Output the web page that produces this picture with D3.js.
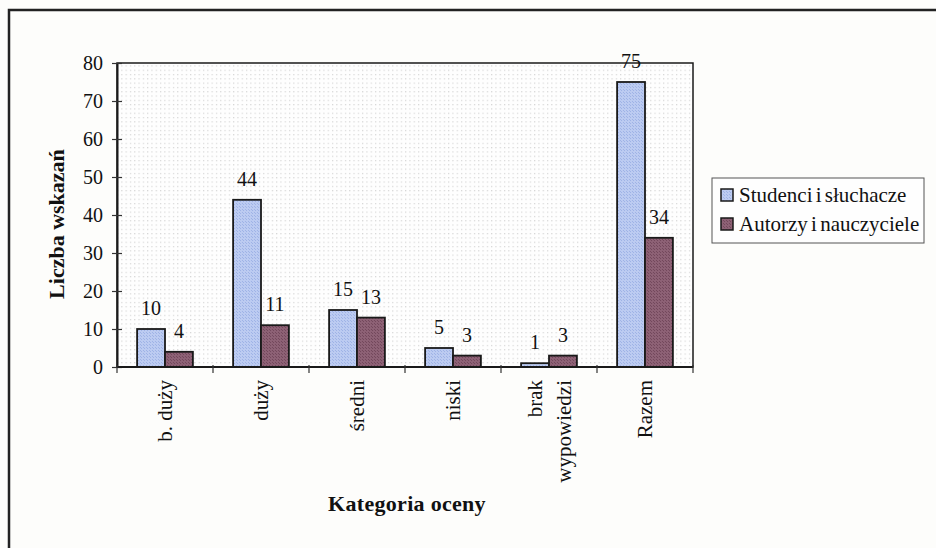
<!DOCTYPE html>
<html>
<head>
<meta charset="utf-8">
<script src="https://cdn.jsdelivr.net/npm/d3@7"></script>
<style>
  html, body { margin: 0; padding: 0; background: #fdfdfb; }
  svg { display: block; }
  text { font-family: "Liberation Serif", "Times New Roman", serif; fill: #111; }
</style>
</head>
<body>
<svg id="chart" width="936" height="548"></svg>
<script>
const categories = ["b. duży", "duży", "średni", "niski", "brak wypowiedzi", "Razem"];
const categoryLines = [["b. duży"], ["duży"], ["średni"], ["niski"], ["brak", "wypowiedzi"], ["Razem"]];
const seriesNames = ["Studenci i słuchacze", "Autorzy i nauczyciele"];
const studenci = [10, 44, 15, 5, 1, 75];
const autorzy = [4, 11, 13, 3, 3, 34];
const yTicks = [0, 10, 20, 30, 40, 50, 60, 70, 80];
const seriesColors = ["#bccbf1", "#8d6175"];

(function () {
const svg = d3.select("#chart");

// patterns
const defs = svg.append("defs");
const dots = defs.append("pattern").attr("id", "dots").attr("width", 4.3).attr("height", 4.3)
  .attr("patternUnits", "userSpaceOnUse");
dots.append("rect").attr("width", 4.3).attr("height", 4.3).attr("fill", "#fefefe");
dots.append("rect").attr("x", 1).attr("y", 1).attr("width", 1).attr("height", 1).attr("fill", "#c4c4c4");

const patIds = ["patBlue", "patPurple"];
const patDark = ["#9fb3e6", "#73485c"];
patIds.forEach((id, i) => {
  const p = defs.append("pattern").attr("id", id).attr("width", 3).attr("height", 3)
    .attr("patternUnits", "userSpaceOnUse");
  p.append("rect").attr("width", 3).attr("height", 3).attr("fill", seriesColors[i]);
  p.append("rect").attr("x", 0).attr("y", 0).attr("width", 1).attr("height", 1).attr("fill", patDark[i]);
  p.append("rect").attr("x", 2).attr("y", 2).attr("width", 1).attr("height", 1).attr("fill", patDark[i]);
});

// outer frame
svg.append("path")
  .attr("d", "M9,560 L9,10 L950,10")
  .attr("fill", "none").attr("stroke", "#222").attr("stroke-width", 2.5);

const pLeft = 117, pRight = 693, pTop = 63, pBottom = 367;

const x = d3.scaleBand().domain(categories).range([pLeft, pRight]).padding(0);
const xs = d3.scaleBand().domain(seriesNames).range([0, x.bandwidth()]).paddingInner(0).paddingOuter(0.72);
const y = d3.scaleLinear().domain([0, 80]).range([pBottom, pTop]);

// plot area
svg.append("rect").attr("x", pLeft).attr("y", pTop).attr("width", pRight - pLeft).attr("height", pBottom - pTop)
  .attr("fill", "url(#dots)").attr("stroke", "#1a1a1a").attr("stroke-width", 1.5);

// bars
const data = categories.map((c, i) => ({ cat: c, vals: [studenci[i], autorzy[i]] }));
const groups = svg.append("g").selectAll("g").data(data).join("g")
  .attr("transform", d => `translate(${x(d.cat)},0)`);
groups.selectAll("rect").data(d => d.vals.map((v, j) => ({ v, s: seriesNames[j], j })))
  .join("rect")
  .attr("x", d => xs(d.s))
  .attr("y", d => y(d.v))
  .attr("width", xs.bandwidth())
  .attr("height", d => y(0) - y(d.v))
  .attr("fill", d => `url(#${patIds[d.j]})`)
  .attr("stroke", "#1a1a1a").attr("stroke-width", 1.8);

// y axis
const yAxis = svg.append("g").attr("transform", `translate(${pLeft},0)`)
  .call(d3.axisLeft(y).tickValues(yTicks).tickSize(0).tickPadding(14));
yAxis.select(".domain").attr("stroke", "#1a1a1a").attr("stroke-width", 2);
yAxis.selectAll(".tick text").style("font-family", "Liberation Serif").style("font-size", "20px").attr("fill", "#111");
yAxis.selectAll(".tick").append("line").attr("x1", -5).attr("x2", 5).attr("stroke", "#333").attr("stroke-width", 1.2);

// x axis line + ticks at boundaries
svg.append("line").attr("x1", pLeft).attr("x2", pRight).attr("y1", pBottom).attr("y2", pBottom)
  .attr("stroke", "#1a1a1a").attr("stroke-width", 2);
const bounds = categories.map(c => x(c)).concat([x(categories[categories.length - 1]) + x.bandwidth()]);
svg.append("g").selectAll("line").data(bounds).join("line")
  .attr("x1", d => d).attr("x2", d => d).attr("y1", pBottom - 2).attr("y2", pBottom + 6)
  .attr("stroke", "#333").attr("stroke-width", 1.2);

// category labels
const catG = svg.append("g").selectAll("g").data(categories).join("g")
  .attr("transform", c => `translate(${x(c) + x.bandwidth() / 2},${pBottom + 13}) rotate(-90)`);
catG.each(function (c, i) {
  const lines = categoryLines[i];
  const n = lines.length;
  d3.select(this).selectAll("text").data(lines).join("text")
    .attr("x", 0)
    .attr("y", (l, k) => (k - (n - 1) / 2) * 29)
    .attr("dy", "0.35em")
    .attr("text-anchor", "end")
    .style("font-size", "21px")
    .text(l => l);
});

// value labels
groups.selectAll("text.val").data(d => d.vals.map((v, j) => ({ v, s: seriesNames[j] })))
  .join("text").attr("class", "val")
  .attr("x", d => xs(d.s) + xs.bandwidth() / 2)
  .attr("y", d => y(d.v) - 14)
  .attr("text-anchor", "middle")
  .style("font-size", "20px")
  .text(d => d.v);

// axis titles
svg.append("text").attr("transform", "translate(64,224) rotate(-90)")
  .attr("text-anchor", "middle").style("font-size", "22px").style("font-weight", "bold")
  .text("Liczba wskazań");
svg.append("text").attr("x", 407).attr("y", 511)
  .attr("text-anchor", "middle").style("font-size", "22px").style("font-weight", "bold")
  .style("letter-spacing", "0.3px")
  .text("Kategoria oceny");

// legend
const lg = svg.append("g");
lg.append("rect").attr("x", 712).attr("y", 178).attr("width", 212).attr("height", 65)
  .attr("fill", "#fefefe").attr("stroke", "#555").attr("stroke-width", 1);
const items = lg.selectAll("g").data(seriesNames).join("g")
  .attr("transform", (d, i) => `translate(721,${195 + i * 29})`);
items.append("rect").attr("x", 0).attr("y", -6).attr("width", 12).attr("height", 12)
  .attr("fill", (d, i) => `url(#${patIds[i]})`).attr("stroke", "#1a1a1a").attr("stroke-width", 1.5);
items.append("text").attr("x", 18).attr("dy", "0.35em").style("font-size", "21px")
  .style("word-spacing", "-2px")
  .text(d => d);
})();
</script>
</body>
</html>
